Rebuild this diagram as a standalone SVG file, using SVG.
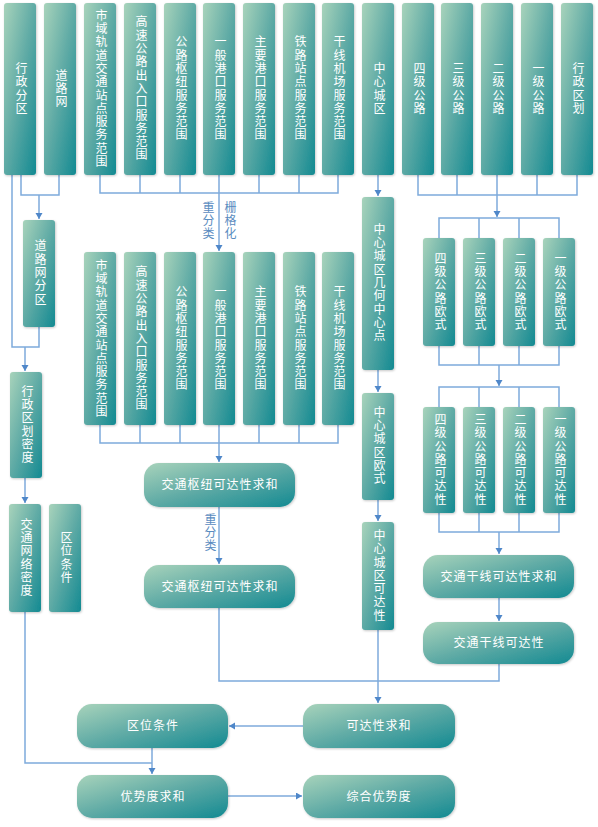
<svg xmlns="http://www.w3.org/2000/svg" width="598" height="827" viewBox="0 0 598 827">
<defs>
<linearGradient id="g" x1="0" y1="0" x2="1" y2="1">
<stop offset="0" stop-color="#a8d3bb"/>
<stop offset="0.5" stop-color="#5eaaa5"/>
<stop offset="1" stop-color="#138a92"/>
</linearGradient>
<filter id="sh" x="-20%" y="-20%" width="140%" height="140%">
<feDropShadow dx="0.8" dy="1" stdDeviation="1.2" flood-color="#000" flood-opacity="0.22"/>
</filter>
<marker id="ar" markerUnits="userSpaceOnUse" markerWidth="8" markerHeight="8" refX="6" refY="3.5" orient="auto">
<path d="M0,0 L6,3.5 L0,7 z" fill="#4f87c9"/>
</marker>
</defs>
<style>
.b{fill:url(#g);filter:url(#sh)}
.v{font-family:"Liberation Sans","Noto Sans CJK SC",sans-serif;font-size:12px;fill:#fff;writing-mode:vertical-rl;text-anchor:middle;letter-spacing:1.3px}
.h{font-family:"Liberation Sans","Noto Sans CJK SC",sans-serif;font-size:12px;fill:#fff;text-anchor:middle;dominant-baseline:central;letter-spacing:1px}
.l{font-family:"Liberation Sans","Noto Sans CJK SC",sans-serif;font-size:12px;fill:#5a8cc0;writing-mode:vertical-rl;text-anchor:middle;letter-spacing:1.3px}
.c{fill:none;stroke:#7eaadb;stroke-width:1.5}
.a{fill:none;stroke:#7eaadb;stroke-width:1.5;marker-end:url(#ar)}
</style>
<g id="connectors">
<path class="c" d="M12,175 V347 H39 V327"/>
<path class="a" d="M25,347 V371"/>
<path class="c" d="M21,175 V195 H59 V175"/>
<path class="a" d="M39,195 V219"/>
<path class="a" d="M25,478 V503"/>
<path class="c" d="M25,612 V763 H152"/>
<path class="a" d="M152,748 V774"/>
<path class="a" d="M228,796 H302"/>
<path class="a" d="M303,726 H229"/>
<path class="c" d="M100,175 V193 H338 V175 M140,175 V193 M180,175 V193 M259,175 V193 M299,175 V193"/>
<path class="a" d="M219,175 V251"/>
<path class="c" d="M100,425 V443 H338 V425 M140,425 V443 M180,425 V443 M259,425 V443 M299,425 V443"/>
<path class="a" d="M219,425 V462"/>
<path class="a" d="M219,507 V564"/>
<path class="c" d="M219,608 V681 H499 V664"/>
<path class="a" d="M378,630 V703"/>
<path class="a" d="M378,175 V196"/>
<path class="a" d="M378,370 V392"/>
<path class="a" d="M378,500 V521"/>
<path class="c" d="M418,175 V195 H577 V175 M457,175 V195 M537,175 V195"/>
<path class="a" d="M497,175 V217"/>
<path class="c" d="M439,238 V218 H559 V238 M479,218 V238 M519,218 V238"/>
<path class="c" d="M439,346 V365 H559 V346 M479,346 V365 M519,346 V365"/>
<path class="a" d="M499,365 V386"/>
<path class="c" d="M439,407 V387 H559 V407 M479,387 V407 M519,387 V407"/>
<path class="c" d="M439,513 V532 H559 V513 M479,513 V532 M519,513 V532"/>
<path class="a" d="M499,532 V554"/>
<path class="a" d="M499,598 V621"/>
<text class="l" x="207" y="221">重分类</text>
<text class="l" x="229" y="221">栅格化</text>
<text class="l" x="209" y="533">重分类</text>
</g>
<g id="n1"><rect class="b" x="4" y="3" width="32" height="172" rx="3"/><text class="v" x="20" y="89">行政分区</text></g>
<g id="n2"><rect class="b" x="44" y="3" width="32" height="172" rx="3"/><text class="v" x="60" y="89">道路网</text></g>
<g id="n3"><rect class="b" x="84" y="3" width="32" height="172" rx="3"/><text class="v" x="100" y="89">市域轨道交通站点服务范围</text></g>
<g id="n4"><rect class="b" x="124" y="3" width="32" height="172" rx="3"/><text class="v" x="140" y="89">高速公路出入口服务范围</text></g>
<g id="n5"><rect class="b" x="164" y="3" width="32" height="172" rx="3"/><text class="v" x="180" y="89">公路枢纽服务范围</text></g>
<g id="n6"><rect class="b" x="203" y="3" width="32" height="172" rx="3"/><text class="v" x="219" y="89">一般港口服务范围</text></g>
<g id="n7"><rect class="b" x="243" y="3" width="32" height="172" rx="3"/><text class="v" x="259" y="89">主要港口服务范围</text></g>
<g id="n8"><rect class="b" x="283" y="3" width="32" height="172" rx="3"/><text class="v" x="299" y="89">铁路站点服务范围</text></g>
<g id="n9"><rect class="b" x="322" y="3" width="32" height="172" rx="3"/><text class="v" x="338" y="89">干线机场服务范围</text></g>
<g id="n10"><rect class="b" x="362" y="3" width="32" height="172" rx="3"/><text class="v" x="378" y="89">中心城区</text></g>
<g id="n11"><rect class="b" x="402" y="3" width="32" height="172" rx="3"/><text class="v" x="418" y="89">四级公路</text></g>
<g id="n12"><rect class="b" x="441" y="3" width="32" height="172" rx="3"/><text class="v" x="457" y="89">三级公路</text></g>
<g id="n13"><rect class="b" x="481" y="3" width="32" height="172" rx="3"/><text class="v" x="497" y="89">二级公路</text></g>
<g id="n14"><rect class="b" x="521" y="3" width="32" height="172" rx="3"/><text class="v" x="537" y="89">一级公路</text></g>
<g id="n15"><rect class="b" x="561" y="3" width="32" height="172" rx="3"/><text class="v" x="577" y="89">行政区划</text></g>
<g id="n16"><rect class="b" x="23" y="220" width="32" height="107" rx="3"/><text class="v" x="39" y="273">道路网分区</text></g>
<g id="n17"><rect class="b" x="84" y="252" width="32" height="173" rx="3"/><text class="v" x="100" y="339">市域轨道交通站点服务范围</text></g>
<g id="n18"><rect class="b" x="124" y="252" width="32" height="173" rx="3"/><text class="v" x="140" y="339">高速公路出入口服务范围</text></g>
<g id="n19"><rect class="b" x="164" y="252" width="32" height="173" rx="3"/><text class="v" x="180" y="339">公路枢纽服务范围</text></g>
<g id="n20"><rect class="b" x="203" y="252" width="32" height="173" rx="3"/><text class="v" x="219" y="339">一般港口服务范围</text></g>
<g id="n21"><rect class="b" x="243" y="252" width="32" height="173" rx="3"/><text class="v" x="259" y="339">主要港口服务范围</text></g>
<g id="n22"><rect class="b" x="283" y="252" width="32" height="173" rx="3"/><text class="v" x="299" y="339">铁路站点服务范围</text></g>
<g id="n23"><rect class="b" x="322" y="252" width="32" height="173" rx="3"/><text class="v" x="338" y="339">干线机场服务范围</text></g>
<g id="n24"><rect class="b" x="362" y="197" width="32" height="173" rx="3"/><text class="v" x="378" y="283">中心城区几何中心点</text></g>
<g id="n25"><rect class="b" x="362" y="393" width="32" height="107" rx="3"/><text class="v" x="378" y="446">中心城区欧式</text></g>
<g id="n26"><rect class="b" x="362" y="522" width="32" height="108" rx="3"/><text class="v" x="378" y="576">中心城区可达性</text></g>
<g id="n27"><rect class="b" x="423" y="238" width="32" height="108" rx="3"/><text class="v" x="439" y="292">四级公路欧式</text></g>
<g id="n28"><rect class="b" x="463" y="238" width="32" height="108" rx="3"/><text class="v" x="479" y="292">三级公路欧式</text></g>
<g id="n29"><rect class="b" x="503" y="238" width="32" height="108" rx="3"/><text class="v" x="519" y="292">二级公路欧式</text></g>
<g id="n30"><rect class="b" x="543" y="238" width="32" height="108" rx="3"/><text class="v" x="559" y="292">一级公路欧式</text></g>
<g id="n31"><rect class="b" x="423" y="407" width="32" height="106" rx="3"/><text class="v" x="439" y="460">四级公路可达性</text></g>
<g id="n32"><rect class="b" x="463" y="407" width="32" height="106" rx="3"/><text class="v" x="479" y="460">三级公路可达性</text></g>
<g id="n33"><rect class="b" x="503" y="407" width="32" height="106" rx="3"/><text class="v" x="519" y="460">二级公路可达性</text></g>
<g id="n34"><rect class="b" x="543" y="407" width="32" height="106" rx="3"/><text class="v" x="559" y="460">一级公路可达性</text></g>
<g id="n35"><rect class="b" x="10" y="372" width="32" height="106" rx="3"/><text class="v" x="26" y="425">行政区划密度</text></g>
<g id="n36"><rect class="b" x="9" y="504" width="32" height="108" rx="3"/><text class="v" x="25" y="558">交通网络密度</text></g>
<g id="n37"><rect class="b" x="49" y="504" width="32" height="108" rx="3"/><text class="v" x="65" y="558">区位条件</text></g>
<g id="n38"><rect class="b" x="144" y="463" width="151" height="44" rx="15"/><text class="h" x="220" y="485">交通枢纽可达性求和</text></g>
<g id="n39"><rect class="b" x="144" y="565" width="151" height="43" rx="15"/><text class="h" x="220" y="586.5">交通枢纽可达性求和</text></g>
<g id="n40"><rect class="b" x="423" y="555" width="151" height="43" rx="15"/><text class="h" x="499" y="576.5">交通干线可达性求和</text></g>
<g id="n41"><rect class="b" x="423" y="622" width="151" height="42" rx="15"/><text class="h" x="499" y="643">交通干线可达性</text></g>
<g id="n42"><rect class="b" x="77" y="704" width="151" height="44" rx="15"/><text class="h" x="153" y="726">区位条件</text></g>
<g id="n43"><rect class="b" x="303" y="704" width="152" height="44" rx="15"/><text class="h" x="379" y="726">可达性求和</text></g>
<g id="n44"><rect class="b" x="77" y="775" width="151" height="43" rx="15"/><text class="h" x="153" y="796.5">优势度求和</text></g>
<g id="n45"><rect class="b" x="303" y="775" width="152" height="43" rx="15"/><text class="h" x="379" y="796.5">综合优势度</text></g>
</svg>
